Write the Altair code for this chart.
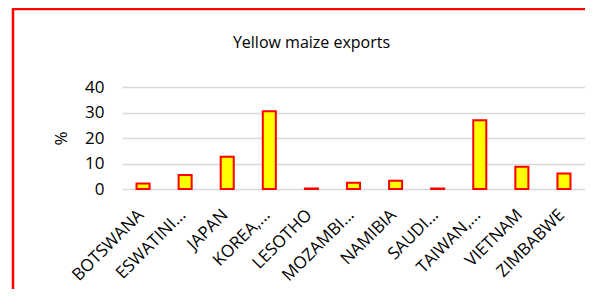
import altair as alt
import pandas as pd

countries = ["BOTSWANA", "ESWATINI...", "JAPAN", "KOREA,...", "LESOTHO", "MOZAMBI...",
             "NAMIBIA", "SAUDI...", "TAIWAN,...", "VIETNAM", "ZIMBABWE"]
values = [2.2, 5.5, 12.6, 30.5, 0.2, 2.5, 3.2, 0.2, 27.0, 8.7, 6.1]
y_ticks = [0, 10, 20, 30, 40]

df = pd.DataFrame({"country": countries, "value": values})

FONT = "Open Sans"

bars = alt.Chart(df).mark_bar(color="#FFFF00", stroke="#FF0000", strokeWidth=2).encode(
    x=alt.X("country:N", sort=countries,
            scale=alt.Scale(paddingInner=0.69, paddingOuter=0.345),
            axis=alt.Axis(title=None, labelAngle=-45, labelFontSize=17, labelColor="#000000",
                          labelFont=FONT, ticks=False, domain=False, labelPadding=23,
                          labelOffset=-2, labelBaseline="middle", labelAlign="right",
                          labelLimit=200)),
    y=alt.Y("value:Q", scale=alt.Scale(domain=[0, 40], nice=False),
            axis=alt.Axis(title="%", values=y_ticks, titleFontSize=17, titleFont=FONT,
                          titleFontWeight="normal", titleColor="#000000", titlePadding=14,
                          labelFontSize=17, labelFont=FONT, labelColor="#000000",
                          ticks=False, domain=False, labelPadding=18,
                          grid=True, gridColor="#D9D9D9", gridWidth=1.5)),
)

border_df = pd.DataFrame({"a": [0]})
left_border = alt.Chart(border_df).mark_rule(color="#FF0000", strokeWidth=2.5).encode(
    x=alt.value(-109), y=alt.value(-79), y2=alt.value(320))
top_border = alt.Chart(border_df).mark_rule(color="#FF0000", strokeWidth=2.5).encode(
    x=alt.value(-110), x2=alt.value(500), y=alt.value(-78))

chart = alt.layer(bars, left_border, top_border).properties(
    width=463, height=102,
    title=alt.Title("Yellow maize exports", fontSize=16, font=FONT, fontWeight="normal",
                    color="#000000", dx=-42, offset=-44, frame="group"),
    autosize=alt.AutoSizeParams(type="none"),
    padding={"left": 114, "top": 79, "right": 0, "bottom": 100},
).configure_view(stroke=None)

chart.save("out.html", embed_options={"renderer": "svg", "actions": False})
